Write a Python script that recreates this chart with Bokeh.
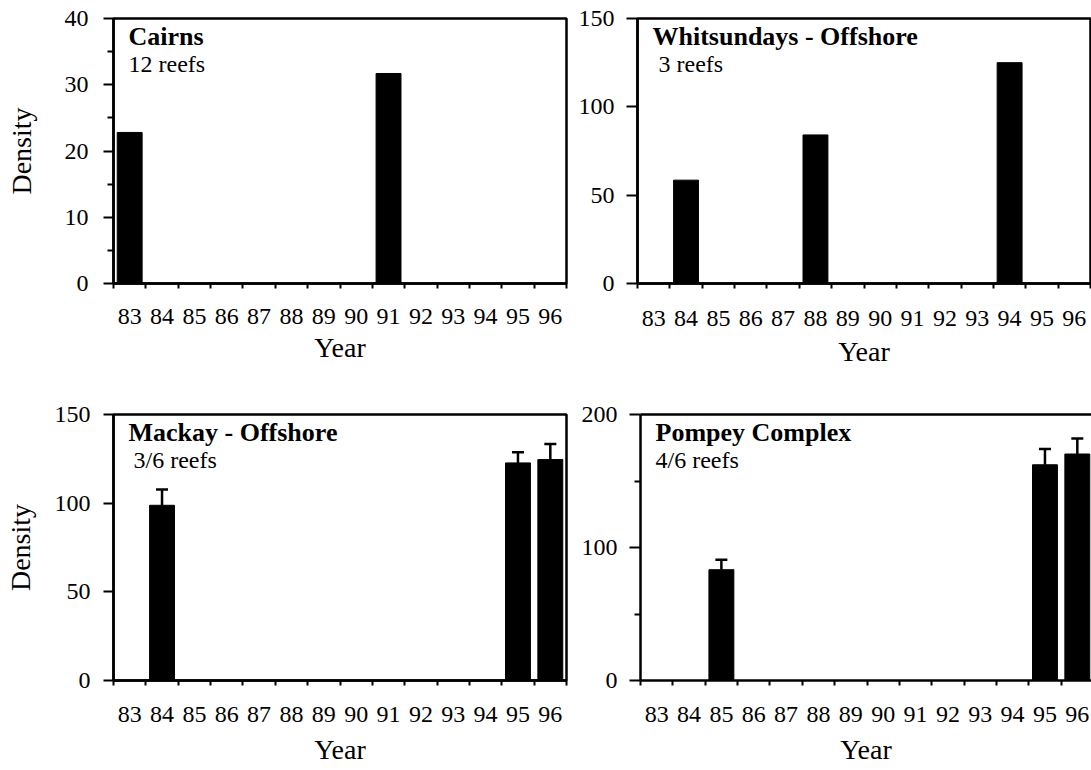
from bokeh.plotting import figure
from bokeh.models import (Range1d, FixedTicker, Label, Whisker, ColumnDataSource,
                          TeeHead, LinearAxis)
from bokeh.layouts import row, column
from bokeh.embed import file_html
from bokeh.resources import INLINE

# ---------------- data ----------------
year_labels = [83, 84, 85, 86, 87, 88, 89, 90, 91, 92, 93, 94, 95, 96]

cairns_years = [83, 91]
cairns_density = [22.8, 31.7]

whits_years = [84, 88, 94]
whits_density = [58.5, 84.1, 125.0]

mackay_years = [84, 95, 96]
mackay_density = [98.8, 122.7, 124.6]
mackay_se = [8.9, 6.0, 8.8]

pompey_years = [85, 95, 96]
pompey_density = [83.3, 162.2, 170.3]
pompey_se = [7.5, 11.8, 11.7]

titles = ["Cairns", "Whitsundays - Offshore", "Mackay - Offshore", "Pompey Complex"]
subtitles = ["12 reefs", "3 reefs", "3/6 reefs", "4/6 reefs"]

y_max = [40, 150, 150, 200]
y_major = [[0, 10, 20, 30, 40], [0, 50, 100, 150], [0, 50, 100, 150], [0, 100, 200]]
y_minor = [[5, 15, 25, 35], [], [], [50, 150]]

# ---------------- style ----------------
FONT = "Liberation Serif"
TICK_FS = "24px"
AXLAB_FS = "28px"
CAT_PX = 453 / 14.0          # pixel width of one year slot


def make_panel(idx, years, density, se, w, h, bl, br, bt, bb, ylabel,
               y_std, x_std, xlab_std, sub_dx, ytick_out, full_right=True):
    fw = w - bl - br
    fh = h - bt - bb
    x0 = year_labels[0] - 0.5
    x1 = x0 + fw / CAT_PX
    p = figure(width=w, height=h, output_backend="svg", toolbar_location=None,
               x_range=Range1d(x0, x1), y_range=Range1d(0, y_max[idx]),
               min_border_left=bl, min_border_right=br,
               min_border_top=bt, min_border_bottom=bb)
    p.xgrid.visible = False
    p.ygrid.visible = False
    p.background_fill_color = "white"
    p.border_fill_color = "white"

    # x axis: labels at year centres, small ticks at slot boundaries
    bounds = [y - 0.5 for y in year_labels] + [year_labels[-1] + 0.5]
    xa = p.below[0]
    xa.ticker = FixedTicker(ticks=year_labels, minor_ticks=bounds)
    xa.major_tick_out = 0
    xa.major_tick_in = 0
    xa.minor_tick_out = 5
    xa.minor_tick_in = 0
    xa.minor_tick_line_width = 2
    xa.minor_tick_line_color = "black"
    xa.axis_line_width = 2.5
    xa.axis_line_color = "black"
    xa.major_label_text_font = FONT
    xa.major_label_text_font_size = TICK_FS
    xa.major_label_text_color = "black"
    xa.major_label_standoff = x_std
    xa.axis_label = "Year"
    xa.axis_label_text_font = FONT
    xa.axis_label_text_font_size = AXLAB_FS
    xa.axis_label_text_font_style = "normal"
    xa.axis_label_text_color = "black"
    xa.axis_label_standoff = xlab_std

    ya = p.left[0]
    ya.ticker = FixedTicker(ticks=y_major[idx], minor_ticks=y_minor[idx])
    ya.major_tick_out = ytick_out
    ya.major_tick_in = 0
    ya.minor_tick_out = 6
    ya.minor_tick_in = 0
    ya.major_tick_line_width = 2
    ya.minor_tick_line_width = 2
    ya.major_tick_line_color = "black"
    ya.minor_tick_line_color = "black"
    ya.axis_line_width = 2.5
    ya.axis_line_color = "black"
    ya.major_label_text_font = FONT
    ya.major_label_text_font_size = TICK_FS
    ya.major_label_text_color = "black"
    ya.major_label_standoff = y_std
    if ylabel:
        ya.axis_label = "Density"
        ya.axis_label_text_font = FONT
        ya.axis_label_text_font_size = AXLAB_FS
        ya.axis_label_text_font_style = "normal"
        ya.axis_label_text_color = "black"
        ya.axis_label_standoff = ylabel

    if full_right:
        p.outline_line_color = "black"
        p.outline_line_width = 2.5
    else:
        p.outline_line_color = None
        top_axis = LinearAxis(ticker=FixedTicker(ticks=[]), axis_line_width=2.5,
                              axis_line_color="black",
                              major_tick_line_color=None, minor_tick_line_color=None)
        p.add_layout(top_axis, "above")

    src = ColumnDataSource(dict(x=years, top=density))
    p.vbar(x="x", top="top", bottom=0, width=0.77, source=src,
           fill_color="black", line_color="black")

    if se is not None:
        upper = [d + e for d, e in zip(density, se)]
        esrc = ColumnDataSource(dict(x=years, lower=density, upper=upper))
        p.add_layout(Whisker(source=esrc, base="x", lower="lower", upper="upper",
                             line_width=2.5, line_color="black",
                             upper_head=TeeHead(size=12, line_width=2.5),
                             lower_head=None))

    ux = fw / (x1 - x0)
    uy = fh / y_max[idx]
    p.add_layout(Label(x=x0 + 15 / ux, y=y_max[idx] - 18 / uy, text=titles[idx],
                       text_font=FONT, text_font_size="26px", text_font_style="bold",
                       text_baseline="alphabetic", text_color="black"))
    p.add_layout(Label(x=x0 + sub_dx / ux, y=y_max[idx] - 45 / uy, text=subtitles[idx],
                       text_font=FONT, text_font_size="24px",
                       text_baseline="alphabetic", text_color="black"))
    return p


tl = make_panel(0, cairns_years, cairns_density, None, 571, 385, 113, 5, 18, 102,
                ylabel=25, y_std=15, x_std=20, xlab_std=5, sub_dx=15, ytick_out=10)
tr = make_panel(1, whits_years, whits_density, None, 520, 385, 66, 1, 18, 102,
                ylabel=None, y_std=12, x_std=22, xlab_std=7, sub_dx=21, ytick_out=11)
bl = make_panel(2, mackay_years, mackay_density, mackay_se, 571, 385, 113, 5, 29, 90,
                ylabel=16, y_std=13, x_std=21, xlab_std=9, sub_dx=20, ytick_out=10)
br = make_panel(3, pompey_years, pompey_density, pompey_se, 520, 385, 69, 0, 29, 90,
                ylabel=None, y_std=12, x_std=21, xlab_std=9, sub_dx=15, ytick_out=11,
                full_right=False)

layout = column(row(tl, tr), row(bl, br))

open("out.html", "w").write(file_html(layout, INLINE))
